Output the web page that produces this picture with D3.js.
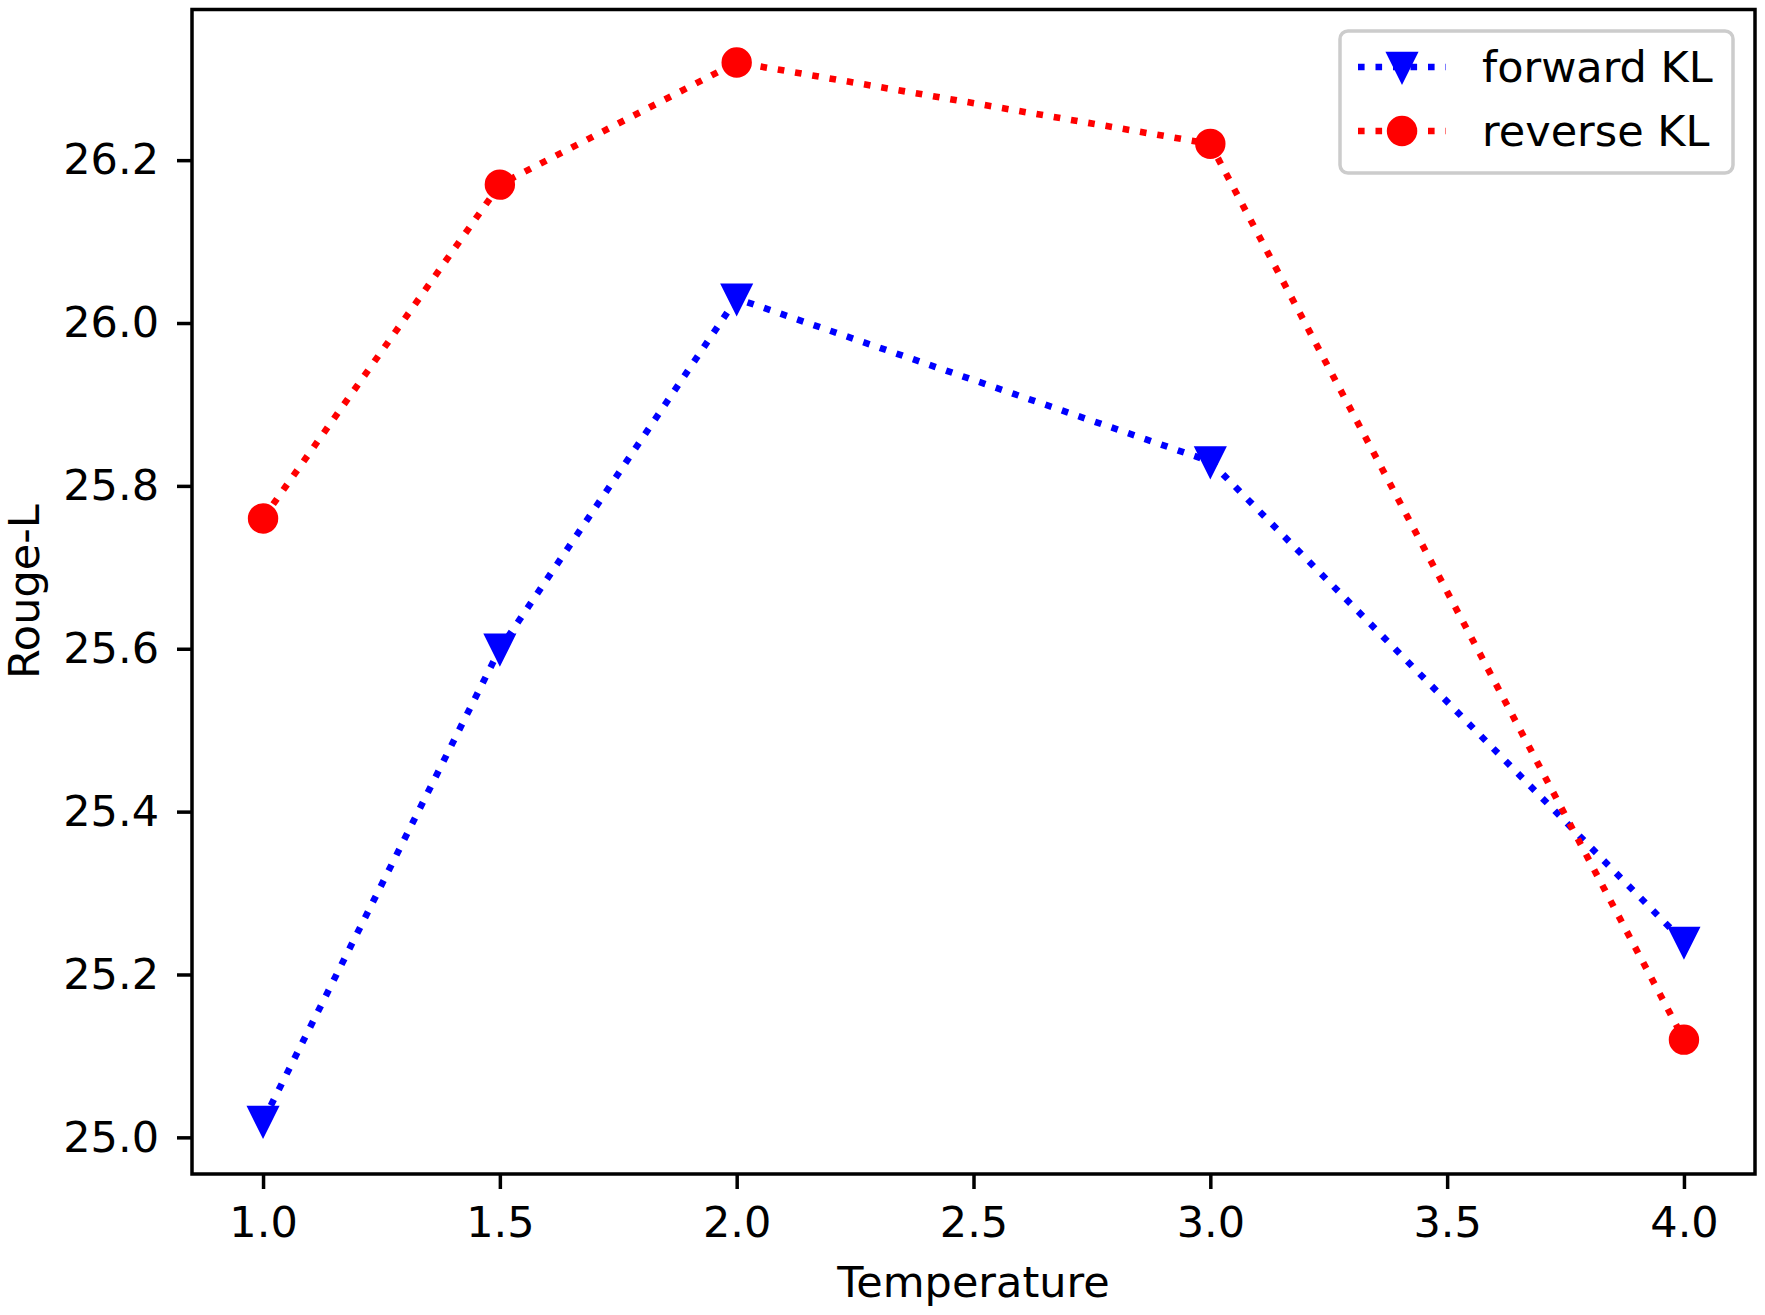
<!DOCTYPE html>
<html lang="en">
  <head>
    <meta charset="UTF-8" />
    <title>Rouge-L vs Temperature</title>
    <script src="https://cdn.jsdelivr.net/npm/d3@7/dist/d3.min.js"></script>
    <style>
      body { margin: 0; background: #fff; }
      svg { display: block; font-family: 'DejaVu Sans', sans-serif; }
    </style>
  </head>
  <body>
    <svg class="svg" width="1765" height="1315"></svg>
    <script>
      // data
      const temperature = [1.0, 1.5, 2.0, 3.0, 4.0];
      const forwardKL = [25.02, 25.60, 26.03, 25.83, 25.24];
      const reverseKL = [25.76, 26.17, 26.32, 26.22, 25.12];
      const xTicks = [1.0, 1.5, 2.0, 2.5, 3.0, 3.5, 4.0];
      const yTicks = [25.0, 25.2, 25.4, 25.6, 25.8, 26.0, 26.2];

      const series = [
        { name: 'forward KL', values: forwardKL, color: '#0000ff', marker: 'tri' },
        { name: 'reverse KL', values: reverseKL, color: '#ff0000', marker: 'circle' },
      ];

      const W = 1765, H = 1315;
      const margin = { left: 192, right: W - 1755, top: 9.5, bottom: H - 1174 };
      const fs = 43;
      const lw = 6.6;
      const dash = '6.6 10.9';
      const ms = 26; // marker size
      const mew = 4.4; // marker edge width

      const svg = d3.select('.svg');
      svg.append('rect').attr('width', W).attr('height', H).attr('fill', '#fff');

      // matplotlib style 5% margins
      const xExt = d3.extent(temperature);
      const yExt = d3.extent(forwardKL.concat(reverseKL));
      const xPad = (xExt[1] - xExt[0]) * 0.05;
      const yPad = (yExt[1] - yExt[0]) * 0.05;

      const x = d3.scaleLinear()
        .domain([xExt[0] - xPad, xExt[1] + xPad])
        .range([margin.left, W - margin.right]);
      const y = d3.scaleLinear()
        .domain([yExt[0] - yPad, yExt[1] + yPad])
        .range([H - margin.bottom, margin.top]);

      // axes
      const xAxis = d3.axisBottom(x).tickValues(xTicks).tickFormat(d3.format('.1f'))
        .tickSize(15).tickPadding(17);
      const yAxis = d3.axisLeft(y).tickValues(yTicks).tickFormat(d3.format('.1f'))
        .tickSize(15).tickPadding(18);

      const gx = svg.append('g')
        .attr('transform', `translate(0,${H - margin.bottom})`)
        .call(xAxis);
      const gy = svg.append('g')
        .attr('transform', `translate(${margin.left},0)`)
        .call(yAxis);
      [gx, gy].forEach(g => {
        g.select('.domain').remove();
        g.selectAll('line').attr('stroke', '#000').attr('stroke-width', 3.5);
        g.selectAll('text').attr('font-size', fs).attr('fill', '#000')
          .attr('font-family', "'DejaVu Sans', sans-serif");
      });

      // axis labels
      svg.append('text')
        .attr('x', (margin.left + W - margin.right) / 2)
        .attr('y', 1297)
        .attr('text-anchor', 'middle')
        .attr('font-size', fs)
        .text('Temperature');
      svg.append('text')
        .attr('transform', `translate(39,${(margin.top + H - margin.bottom) / 2}) rotate(-90)`)
        .attr('text-anchor', 'middle')
        .attr('font-size', fs)
        .text('Rouge-L');

      function drawMarker(g, type, cx, cy, color) {
        if (type === 'circle') {
          g.append('circle')
            .attr('cx', cx).attr('cy', cy).attr('r', ms / 2)
            .attr('fill', color)
            .attr('stroke', color).attr('stroke-width', mew);
        } else {
          const h = ms / 2;
          g.append('path')
            .attr('d', `M${cx - h},${cy - h}L${cx + h},${cy - h}L${cx},${cy + h}Z`)
            .attr('fill', color)
            .attr('stroke', color).attr('stroke-width', mew)
            .attr('stroke-linejoin', 'miter');
        }
      }

      // lines + markers
      const line = d3.line()
        .x((d, i) => x(temperature[i]))
        .y(d => y(d));

      const plot = svg.append('g');
      series.forEach(s => {
        const g = plot.append('g');
        g.append('path')
          .datum(s.values)
          .attr('d', line)
          .attr('fill', 'none')
          .attr('stroke', s.color)
          .attr('stroke-width', lw)
          .attr('stroke-dasharray', dash);
        s.values.forEach((v, i) => drawMarker(g, s.marker, x(temperature[i]), y(v), s.color));
      });

      // spines
      svg.append('rect')
        .attr('x', margin.left).attr('y', margin.top)
        .attr('width', W - margin.right - margin.left)
        .attr('height', H - margin.bottom - margin.top)
        .attr('fill', 'none')
        .attr('stroke', '#000')
        .attr('stroke-width', 3.5);

      // legend
      const lg = svg.append('g');
      lg.append('rect')
        .attr('x', 1340).attr('y', 31)
        .attr('width', 393).attr('height', 142)
        .attr('rx', 8)
        .attr('fill', '#fff').attr('fill-opacity', 0.8)
        .attr('stroke', '#cccccc').attr('stroke-width', 3.5);
      const rowY = [67, 131];
      series.forEach((s, i) => {
        lg.append('line')
          .attr('x1', 1358).attr('x2', 1446)
          .attr('y1', rowY[i]).attr('y2', rowY[i])
          .attr('stroke', s.color)
          .attr('stroke-width', lw)
          .attr('stroke-dasharray', dash);
        drawMarker(lg, s.marker, 1402, rowY[i], s.color);
        lg.append('text')
          .attr('x', 1482).attr('y', rowY[i] + 15)
          .attr('font-size', fs)
          .text(s.name);
      });
    </script>
  </body>
</html>
